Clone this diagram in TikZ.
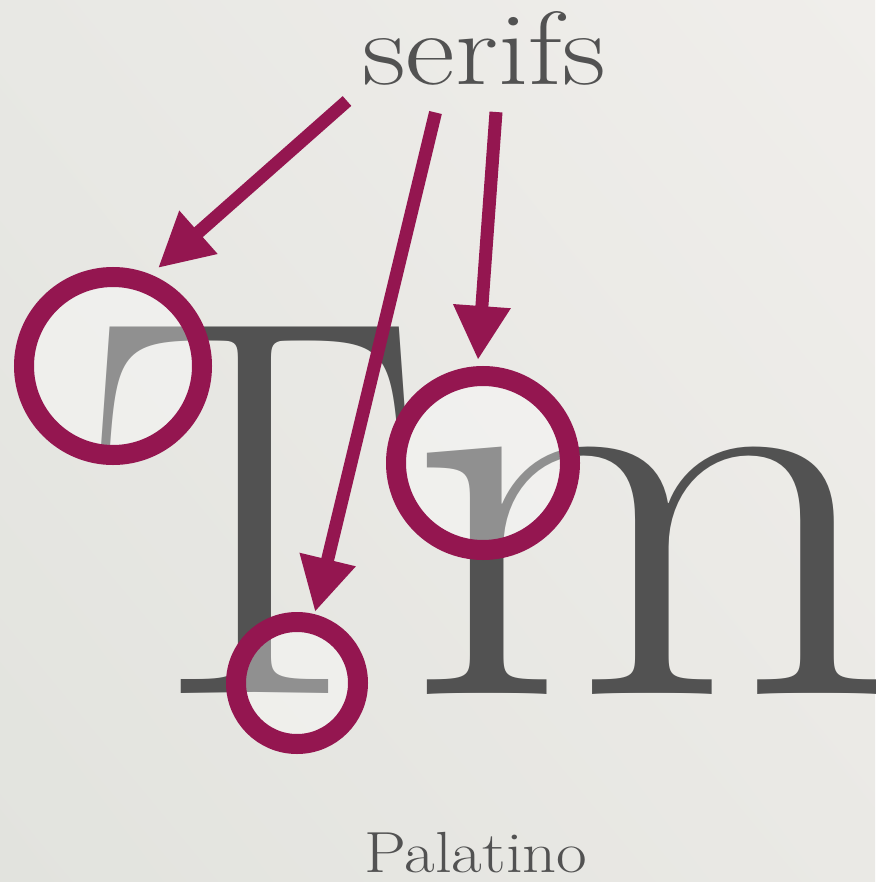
\documentclass[tikz,border=0pt]{standalone}
\usepackage{fontspec}
\usepackage{graphicx}
\usetikzlibrary{arrows.meta,shadings}
\definecolor{serifred}{RGB}{148,22,80}
\definecolor{inkgray}{RGB}{82,82,82}
\definecolor{bgUL}{RGB}{232,232,228}
\definecolor{bgUR}{RGB}{240,238,235}
\definecolor{bgLL}{RGB}{226,227,222}
\definecolor{bgLR}{RGB}{234,233,229}
\tikzset{
  glyph/.style={anchor=base west, inner sep=0pt, outer sep=0pt, text=inkgray},
  label/.style={anchor=base, inner sep=0pt, text=inkgray},
  ring/.style={circle, draw=serifred, line width=20pt, fill=white, fill opacity=0.36, draw opacity=1, inner sep=0pt},
  pointer/.style={draw=serifred, line width=13pt, -{Triangle[length=54pt, width=54pt]}}
}
\begin{document}
\begin{tikzpicture}[x=1pt,y=-1pt]
\shade[upper left=bgUL, upper right=bgUR, lower left=bgLL, lower right=bgLR] (0,0) rectangle (875,882);
\useasboundingbox (0,0) rectangle (875,882);
% big letters
\node[glyph, font=\fontsize{539}{540}\selectfont] (T) at (87,693) {\scalebox{0.93}[1]{T}};
\node[glyph, font=\fontsize{565}{565}\selectfont] (m) at (406,694) {\scalebox{1.12}[1]{m}};
% labels
\node[label, font=\fontsize{104}{110}\selectfont] (serifs) at (484,85) {\scalebox{1.17}[1]{serifs}};
\node[label, font=\fontsize{58}{60}\selectfont] (pal) at (476,872) {\scalebox{1.15}[1]{Palatino}};
% rings
\node[ring, minimum size=178pt] (c1) at (113,366) {};
\node[ring, minimum size=174pt] (c2) at (483,463) {};
\node[ring, minimum size=122pt] (c3) at (297,683) {};
% arrows
\coordinate (a1) at (347,101);
\coordinate (b1) at (158,268);
\coordinate (a2) at (435.5,112.5);
\coordinate (b2) at (315,612);
\coordinate (a3) at (496,112);
\coordinate (b3) at (478,360);
\draw[pointer] (a1) -- (b1);
\draw[pointer] (a2) -- (b2);
\draw[pointer] (a3) -- (b3);
\end{tikzpicture}
\end{document}
